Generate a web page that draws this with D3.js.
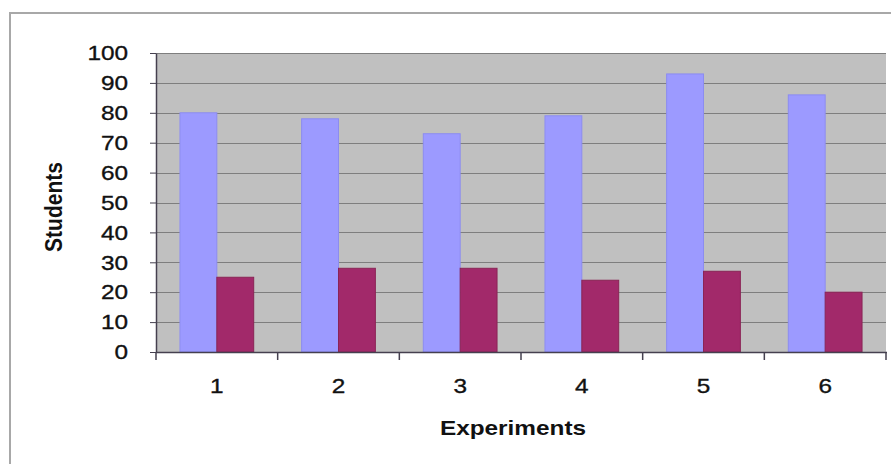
<!DOCTYPE html>
<html>
<head>
<meta charset="utf-8">
<script src="https://cdn.jsdelivr.net/npm/d3@7"></script>
<style>
  html, body { margin: 0; padding: 0; background: #fff; }
  svg { display: block; }
  text { font-family: "Liberation Sans", Arial, sans-serif; fill: #111; }
</style>
</head>
<body>
<svg id="chart" width="891" height="464"></svg>
<script>
// Experiment data
const experiments = ["1", "2", "3", "4", "5", "6"];
const seriesNames = ["A", "B"];
const seriesA = [80, 78, 73, 79, 93, 86];
const seriesB = [25, 28, 28, 24, 27, 20];
const yTicks = [0, 10, 20, 30, 40, 50, 60, 70, 80, 90, 100];
const seriesColors = ["#9c9aff", "#a2296a"];

const svg = d3.select("#chart");
const plot = { left: 156, right: 886, top: 53, bottom: 352 };
const textStretch = 1.16; // glyphs are drawn slightly wide

// outer chart frame
svg.append("rect")
  .attr("x", 10).attr("y", 13)
  .attr("width", 900).attr("height", 500)
  .attr("fill", "#fff")
  .attr("stroke", "#a8a8a8")
  .attr("stroke-width", 2);

const x = d3.scaleBand()
  .domain(experiments)
  .range([plot.left, plot.right])
  .paddingInner(0).paddingOuter(0);

const xInner = d3.scaleBand()
  .domain(seriesNames)
  .range([0, x.bandwidth()])
  .paddingInner(0).paddingOuter(0.65);

const y = d3.scaleLinear().domain([0, 100]).range([plot.bottom, plot.top]);

// plot background
svg.append("rect")
  .attr("x", plot.left).attr("y", plot.top)
  .attr("width", plot.right - plot.left)
  .attr("height", plot.bottom - plot.top)
  .attr("fill", "#c0c0c0");

// horizontal gridlines
svg.append("g")
  .selectAll("line")
  .data(yTicks.filter(d => d > 0))
  .join("line")
  .attr("x1", plot.left).attr("x2", plot.right)
  .attr("y1", d => Math.round(y(d)) + 0.5)
  .attr("y2", d => Math.round(y(d)) + 0.5)
  .attr("stroke", "#7e7e7e")
  .attr("stroke-width", 1.2);

// bars
const rows = experiments.map((c, i) => ({ c, values: [seriesA[i], seriesB[i]] }));
const groups = svg.append("g")
  .selectAll("g")
  .data(rows)
  .join("g")
  .attr("transform", d => `translate(${x(d.c)},0)`);

groups.selectAll("rect")
  .data(d => d.values.map((v, k) => ({ k, v })))
  .join("rect")
  .attr("x", d => xInner(seriesNames[d.k]))
  .attr("width", xInner.bandwidth())
  .attr("y", d => y(d.v))
  .attr("height", d => y(0) - y(d.v))
  .attr("fill", d => seriesColors[d.k])
  .attr("stroke", d => d.k === 0 ? "#8c8cf0" : "#8a2456")
  .attr("stroke-width", 1);

// y axis
const yAxis = svg.append("g")
  .attr("transform", `translate(${plot.left},0)`)
  .call(d3.axisLeft(y).tickValues(yTicks).tickSize(6).tickSizeOuter(0));
yAxis.select(".domain").attr("stroke", "#45404f").attr("stroke-width", 1.5);
yAxis.selectAll(".tick line").attr("stroke", "#45404f");
yAxis.selectAll(".tick text")
  .attr("x", -28 / textStretch)
  .attr("transform", `scale(${textStretch},1)`)
  .style("font-size", "21px")
  .style("font-family", "'Liberation Sans', Arial, sans-serif")
  .attr("fill", "#111")
  .attr("stroke", "#111").attr("stroke-width", 0.35);

// x axis: labels centred in each category, ticks on category boundaries
const xAxis = svg.append("g")
  .attr("transform", `translate(0,${plot.bottom})`)
  .call(d3.axisBottom(x).tickSize(0).tickPadding(26).tickSizeOuter(0));
xAxis.select(".domain")
  .attr("d", `M${plot.left},0.5H${plot.right + 1}`)
  .attr("stroke", "#45404f").attr("stroke-width", 1.5);
xAxis.selectAll(".tick text")
  .attr("transform", `scale(${textStretch},1)`)
  .style("font-size", "21px")
  .style("font-family", "'Liberation Sans', Arial, sans-serif")
  .attr("fill", "#111")
  .attr("stroke", "#111").attr("stroke-width", 0.35);

const boundaries = experiments.map(c => x(c)).concat([x.range()[1]]);
xAxis.append("g")
  .selectAll("line")
  .data(boundaries)
  .join("line")
  .attr("x1", d => d).attr("x2", d => d)
  .attr("y1", 0).attr("y2", 8)
  .attr("stroke", "#45404f")
  .attr("stroke-width", 1.5);

// axis titles
svg.append("text")
  .attr("transform", `translate(513,435) scale(${textStretch},1)`)
  .attr("text-anchor", "middle")
  .style("font-size", "21px")
  .style("font-weight", "bold")
  .text("Experiments");

svg.append("text")
  .attr("transform", `translate(62,207) scale(${textStretch},1) rotate(-90)`)
  .attr("text-anchor", "middle")
  .style("font-size", "21px")
  .style("font-weight", "bold")
  .text("Students");
</script>
</body>
</html>
